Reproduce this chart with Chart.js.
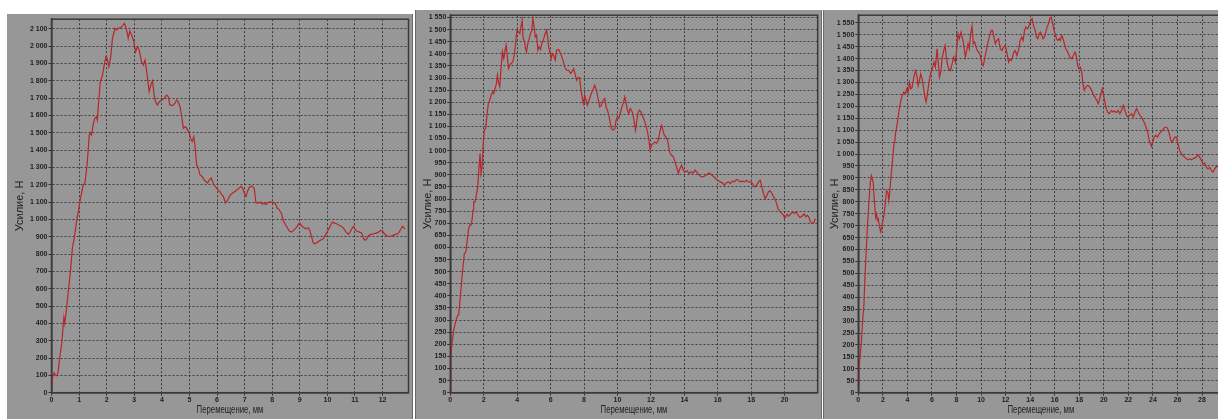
<!DOCTYPE html>
<html>
<head>
<meta charset="utf-8">
<script src="https://cdn.jsdelivr.net/npm/chart.js@4.4.1/dist/chart.umd.min.js"></script>
<style>
    html, body { margin: 0; padding: 0; background: #fff; width: 1218px; height: 419px; overflow: hidden; position: relative; }
    .panel { position: absolute; background: #979797; }
    #p1 { left: 7px; top: 14px; width: 405px; height: 405px; border-right: 1px solid #6a6a6a; }
    #p2 { left: 415px; top: 10px; width: 405px; height: 409px; border-left: 1px solid #6a6a6a; border-right: 1px solid #6a6a6a; }
    #p3 { left: 823px; top: 10px; width: 403px; height: 409px; border-left: 1px solid #6a6a6a; }
    canvas { display: block; }
</style>
</head>
<body>
<div class="panel" id="p1"><canvas id="c1" width="405" height="405"></canvas></div>
<div class="panel" id="p2"><canvas id="c2" width="405" height="409"></canvas></div>
<div class="panel" id="p3"><canvas id="c3" width="403" height="409"></canvas></div>
<script>
// Axis titles
const yTitle = 'Усилие, Н';
const xTitle = 'Перемещение, мм';

// Sample 1: displacement (mm) and force (N)
const disp1 = [0, 0.04, 0.1, 0.16, 0.2, 0.25, 0.3, 0.37, 0.45, 0.48, 0.54, 0.6, 0.69, 0.76, 0.81, 0.88, 0.93, 0.98,
    1.03, 1.09, 1.15, 1.21, 1.29, 1.37, 1.41, 1.45, 1.51, 1.57, 1.63, 1.66, 1.71, 1.77, 1.85, 1.91, 1.97,
    2.02, 2.08, 2.14, 2.21, 2.3, 2.36, 2.42, 2.5, 2.58, 2.64, 2.69, 2.75, 2.78, 2.84, 2.9, 2.97,
    3.05, 3.11, 3.18, 3.26, 3.33, 3.39, 3.45, 3.54, 3.6, 3.66, 3.72, 3.77, 3.84, 3.91,
    4.0, 4.08, 4.17, 4.23, 4.29, 4.39, 4.47, 4.53, 4.59, 4.66, 4.72, 4.78, 4.86, 4.93, 4.99,
    5.04, 5.1, 5.16, 5.21, 5.26, 5.32, 5.38, 5.46, 5.53, 5.6, 5.66, 5.72, 5.79, 5.86, 5.93, 5.99,
    6.06, 6.1, 6.17, 6.23, 6.3, 6.36, 6.42, 6.49, 6.57, 6.65, 6.73, 6.8, 6.87, 6.93, 6.99,
    7.05, 7.1, 7.17, 7.23, 7.29, 7.35, 7.41, 7.5, 7.56, 7.64, 7.71, 7.77, 7.86, 7.94,
    8.03, 8.11, 8.18, 8.25, 8.34, 8.4, 8.46, 8.55, 8.62, 8.71, 8.79, 8.89, 8.96,
    9.0, 9.06, 9.12, 9.22, 9.31, 9.37, 9.43, 9.49, 9.56, 9.63, 9.7, 9.78, 9.85, 9.92, 9.99,
    10.07, 10.13, 10.19, 10.25, 10.34, 10.43, 10.52, 10.6, 10.68, 10.75, 10.82, 10.88, 10.95,
    11.01, 11.07, 11.17, 11.25, 11.31, 11.37, 11.43, 11.49, 11.58, 11.67, 11.76, 11.85, 11.93,
    12.0, 12.05, 12.13, 12.21, 12.29, 12.38, 12.47, 12.54, 12.6, 12.67, 12.72, 12.77, 12.82];
const force1 = [0, 92, 115, 98, 98, 130, 207, 284, 434, 400, 477, 572, 706, 841, 880, 956, 1013, 1052,
    1105, 1153, 1200, 1210, 1316, 1488, 1500, 1488, 1546, 1585, 1593, 1574, 1680, 1795, 1834, 1891, 1939,
    1930, 1882, 1930, 2045, 2103, 2094, 2103, 2107, 2119, 2132, 2113, 2074, 2045, 2088, 2065, 2036,
    1969, 1997, 1978, 1911, 1891, 1920, 1853, 1738, 1776, 1800, 1718, 1680, 1661, 1680,
    1690, 1699, 1718, 1709, 1661, 1657, 1670, 1690, 1680, 1651, 1593, 1526, 1536, 1517, 1498,
    1469, 1450, 1478, 1411, 1316, 1296, 1258, 1248, 1229, 1219, 1210, 1229, 1239, 1210, 1191, 1181,
    1166, 1162, 1143, 1133, 1095, 1105, 1124, 1143, 1153, 1162, 1172, 1181, 1191, 1181, 1153,
    1133, 1162, 1185, 1191, 1191, 1178, 1095, 1095, 1101, 1089, 1095, 1085, 1099, 1101,
    1095, 1095, 1066, 1057, 1033, 994, 975, 952, 933, 927, 940, 956, 975,
    979, 965, 956, 946, 952, 933, 898, 864, 860, 869, 875, 883, 889, 908, 927,
    952, 971, 985, 979, 975, 965, 960, 946, 927, 914, 927, 946, 960,
    940, 933, 927, 921, 889, 879, 889, 908, 914, 917, 921, 927, 937,
    933, 921, 908, 902, 902, 908, 914, 917, 927, 946, 960, 952, 946];

// Sample 2
const disp2 = [0, 0.02, 0.04, 0.1, 0.2, 0.34, 0.44, 0.5, 0.6, 0.7, 0.84, 0.94, 1.0, 1.08, 1.16, 1.24, 1.3, 1.36, 1.4, 1.48,
    1.56, 1.64, 1.72, 1.78, 1.84, 1.9, 1.98, 2.04, 2.12, 2.2, 2.28, 2.36, 2.44, 2.54, 2.6, 2.68, 2.76, 2.82, 2.88, 2.96,
    3.04, 3.12, 3.2, 3.28, 3.34, 3.4, 3.48, 3.56, 3.64, 3.74, 3.84, 3.92, 4.0, 4.08, 4.16, 4.24, 4.3, 4.36, 4.44, 4.5,
    4.56, 4.64, 4.72, 4.8, 4.88, 4.94, 5.0, 5.08, 5.16, 5.24, 5.32, 5.4, 5.48, 5.56, 5.68, 5.76, 5.82, 5.88, 5.96,
    6.04, 6.1, 6.18, 6.28, 6.36, 6.48, 6.6, 6.74, 6.84, 6.96, 7.08, 7.2, 7.28, 7.38, 7.48, 7.56, 7.64, 7.72, 7.8, 7.88, 7.96,
    8.04, 8.12, 8.2, 8.3, 8.4, 8.52, 8.64, 8.74, 8.84, 8.94, 9.04, 9.14, 9.24, 9.32, 9.4, 9.48, 9.56, 9.64, 9.74, 9.84, 9.92,
    10.0, 10.08, 10.16, 10.24, 10.34, 10.44, 10.52, 10.6, 10.68, 10.76, 10.84, 10.92, 11.0, 11.08, 11.16, 11.24, 11.32,
    11.4, 11.48, 11.56, 11.64, 11.72, 11.8, 11.88, 11.96, 12.04, 12.14, 12.24, 12.34, 12.44, 12.54, 12.64, 12.72, 12.8,
    12.9, 13.0, 13.08, 13.16, 13.24, 13.34, 13.44, 13.54, 13.64, 13.74, 13.84, 13.94, 14.04, 14.16, 14.28, 14.4, 14.54,
    14.64, 14.74, 14.84, 14.96, 15.08, 15.2, 15.32, 15.44, 15.54, 15.64, 15.76, 15.88, 16.0, 16.14, 16.28, 16.4, 16.52,
    16.64, 16.74, 16.88, 17.0, 17.12, 17.24, 17.36, 17.48, 17.6, 17.72, 17.84, 17.96, 18.08, 18.2, 18.32, 18.44, 18.54,
    18.64, 18.74, 18.84, 18.94, 19.04, 19.14, 19.24, 19.34, 19.44, 19.52, 19.6, 19.74, 19.84, 19.94, 20.0, 20.08, 20.16,
    20.24, 20.36, 20.48, 20.6, 20.72, 20.8, 20.92, 21.04, 21.16, 21.28, 21.36, 21.44, 21.54, 21.64, 21.74, 21.84];
const force2 = [0, 92, 147, 203, 258, 299, 320, 320, 396, 478, 575, 582, 623, 671, 692, 692, 713, 754, 788, 788,
    816, 850, 933, 988, 906, 933, 1043, 1085, 1091, 1153, 1195, 1208, 1229, 1243, 1236, 1257, 1277, 1312, 1284, 1264,
    1346, 1408, 1381, 1415, 1436, 1394, 1339, 1353, 1360, 1367, 1401, 1456, 1498, 1491, 1484, 1518, 1539, 1463, 1449, 1422,
    1408, 1443, 1463, 1484, 1498, 1546, 1518, 1470, 1477, 1415, 1429, 1418, 1443, 1456, 1484, 1498, 1470, 1429, 1408,
    1381, 1401, 1394, 1374, 1415, 1418, 1401, 1374, 1346, 1332, 1332, 1319, 1326, 1339, 1312, 1291, 1302, 1302, 1264, 1222, 1195,
    1229, 1208, 1188, 1208, 1229, 1250, 1270, 1250, 1215, 1181, 1188, 1208, 1215, 1181, 1167, 1147, 1119, 1091, 1085, 1091, 1126,
    1140, 1133, 1153, 1174, 1195, 1222, 1195, 1167, 1153, 1174, 1167, 1153, 1119, 1085, 1126, 1160, 1167,
    1160, 1147, 1133, 1119, 1098, 1078, 1043, 1002, 1023, 1030, 1036, 1030, 1043, 1078, 1105, 1085, 1064,
    1057, 1043, 1009, 988, 981, 974, 954, 933, 906, 926, 940, 919, 912, 917, 906, 912, 908,
    919, 912, 903, 894, 892, 894, 899, 906, 906, 899, 892, 885, 878, 871, 867, 857, 867,
    871, 864, 875, 871, 881, 878, 871, 874, 871, 878, 871, 871, 864, 850, 857, 871, 878,
    850, 823, 802, 816, 830, 834, 823, 809, 798, 782, 761, 747, 740, 733, 720, 729, 738,
    729, 738, 747, 740, 747, 733, 724, 729, 738, 727, 733, 727, 706, 699, 702, 720];

// Sample 3
const disp3 = [0.03, 0.05, 0.14, 0.24, 0.35, 0.46, 0.54, 0.63, 0.76, 0.9, 0.98, 1.06, 1.14, 1.22, 1.28, 1.36, 1.41, 1.49,
    1.55, 1.63, 1.71, 1.82, 1.9, 1.95, 2.09, 2.22, 2.3, 2.41, 2.49, 2.57, 2.68, 2.82, 2.9, 2.98,
    3.03, 3.17, 3.25, 3.36, 3.47, 3.57, 3.71, 3.85, 3.95, 4.06, 4.17, 4.28, 4.39, 4.52, 4.66, 4.77, 4.87, 4.98,
    5.09, 5.2, 5.31, 5.42, 5.52, 5.63, 5.74, 5.85, 5.96, 6.07, 6.17, 6.28, 6.42, 6.5, 6.61, 6.72, 6.82, 6.96,
    7.07, 7.15, 7.26, 7.37, 7.5, 7.64, 7.77, 7.91, 8.04, 8.12, 8.23, 8.37, 8.5, 8.61, 8.72, 8.83, 8.94,
    9.04, 9.15, 9.26, 9.37, 9.48, 9.59, 9.69, 9.8, 9.94, 10.07, 10.18, 10.29, 10.4, 10.5, 10.67, 10.83, 10.94,
    11.05, 11.16, 11.29, 11.43, 11.56, 11.7, 11.83, 11.97, 12.1, 12.24, 12.35, 12.46, 12.56, 12.67, 12.78, 12.92,
    13.05, 13.19, 13.32, 13.43, 13.54, 13.65, 13.78, 13.92, 14.05, 14.16, 14.27, 14.41, 14.51, 14.62, 14.73, 14.84, 14.95,
    15.06, 15.16, 15.27, 15.38, 15.49, 15.6, 15.71, 15.81, 15.92, 16.03, 16.14, 16.25, 16.36, 16.46, 16.57, 16.68, 16.79, 16.9,
    17.0, 17.11, 17.25, 17.38, 17.52, 17.65, 17.76, 17.87, 17.98, 18.09, 18.2, 18.3, 18.41, 18.52, 18.63, 18.74, 18.85, 18.95,
    19.06, 19.17, 19.28, 19.42, 19.55, 19.66, 19.77, 19.87, 19.98, 20.09, 20.2, 20.31, 20.42, 20.53, 20.63, 20.74, 20.85, 20.96,
    21.07, 21.17, 21.31, 21.45, 21.58, 21.72, 21.85, 21.99, 22.12, 22.26, 22.4, 22.53, 22.67, 22.8, 22.94,
    23.07, 23.21, 23.34, 23.48, 23.61, 23.69, 23.8, 23.88, 23.99, 24.1, 24.23, 24.37, 24.51, 24.64, 24.78, 24.91,
    25.05, 25.18, 25.29, 25.4, 25.51, 25.64, 25.78, 25.91, 26.05, 26.18, 26.32, 26.45, 26.59, 26.73, 26.86,
    27.0, 27.13, 27.27, 27.4, 27.54, 27.67, 27.81, 27.94, 28.08, 28.21, 28.35, 28.49, 28.62, 28.76, 28.89,
    29.03, 29.16, 29.3, 29.45, 29.6];
const force3 = [30, 100, 149, 204, 301, 371, 482, 578, 715, 825, 880, 910, 896, 880, 825, 825, 736, 750,
    722, 729, 701, 674, 688, 708, 743, 805, 846, 839, 805, 846, 915, 993, 1040, 1055,
    1085, 1127, 1155, 1197, 1225, 1246, 1260, 1253, 1273, 1260, 1301, 1273, 1280, 1322, 1350, 1329, 1287, 1308,
    1336, 1315, 1280, 1239, 1218, 1253, 1294, 1329, 1350, 1364, 1385, 1364, 1441, 1392, 1322, 1343, 1399, 1434,
    1455, 1413, 1378, 1357, 1350, 1378, 1406, 1385, 1455, 1504, 1483, 1511, 1483, 1448, 1406, 1434, 1462,
    1441, 1504, 1535, 1462, 1469, 1448, 1434, 1427, 1413, 1378, 1371, 1399, 1427, 1455, 1490, 1518, 1518,
    1490, 1462, 1476, 1483, 1441, 1434, 1448, 1455, 1427, 1385, 1399, 1392, 1406, 1427, 1434, 1413,
    1434, 1476, 1490, 1476, 1518, 1532, 1525, 1539, 1560, 1567, 1539, 1518, 1490, 1483, 1504, 1511, 1497,
    1483, 1490, 1511, 1532, 1546, 1567, 1574, 1553, 1525, 1504, 1483, 1476, 1483, 1476, 1497, 1483, 1462, 1441,
    1434, 1420, 1406, 1399, 1413, 1427, 1413, 1371, 1357, 1364, 1343, 1294, 1267, 1280, 1287, 1287, 1280, 1273,
    1260, 1246, 1239, 1225, 1211, 1232, 1253, 1273, 1246, 1218, 1190, 1176, 1169, 1176, 1183, 1176, 1180, 1176,
    1176, 1183, 1169, 1183, 1204, 1183, 1162, 1155, 1162, 1169, 1155, 1176, 1190, 1176, 1162,
    1155, 1141, 1127, 1106, 1085, 1057, 1043, 1032, 1050, 1071, 1078, 1071, 1085, 1092, 1099, 1109,
    1113, 1109, 1092, 1071, 1050, 1057, 1071, 1071, 1043, 1015, 1001, 994, 987, 980, 976,
    980, 976, 980, 984, 987, 998, 987, 973, 959, 962, 945, 938, 945, 931, 924,
    938, 948, 945, 952, 948];

const fontFamily = "'Liberation Sans', Arial, sans-serif";
const tickFont = { family: fontFamily, size: 7, weight: 'bold' };
const yTitleFont = { family: fontFamily, size: 11 };
const gridColor = 'rgba(45, 45, 45, 0.85)';

// Frame around the plot area, plus a narrow x axis title under it
const frame = {
    id: 'frame',
    afterDraw(chart) {
        const a = chart.chartArea;
        const ctx = chart.ctx;
        ctx.save();
        ctx.strokeStyle = '#3a3a3a';
        ctx.lineWidth = 1.5;
        ctx.strokeRect(a.left, a.top, a.right - a.left, a.bottom - a.top);
        // condensed title, like the narrow font of the original
        ctx.font = '10.5px ' + fontFamily;
        ctx.fillStyle = '#222';
        ctx.textAlign = 'center';
        ctx.textBaseline = 'middle';
        ctx.translate((a.left + a.right) / 2, chart.height - 9);
        ctx.scale(0.74, 1);
        ctx.fillText(xTitle, 0, 0);
        ctx.restore();
    }
};

function spaced(v) {
    return String(v).replace(/\B(?=(\d{3})+(?!\d))/g, ' ');
}

function makeChart(id, xs, ys, cfg) {
    const points = xs.map((x, i) => ({ x: x, y: ys[i] }));
    return new Chart(document.getElementById(id), {
        type: 'line',
        data: {
            datasets: [{
                data: points,
                borderColor: '#b8262a',
                borderWidth: 1.2,
                pointRadius: 0,
                tension: 0,
                fill: false
            }]
        },
        options: {
            responsive: false,
            animation: false,
            events: [],
            layout: { padding: { top: cfg.top, right: cfg.right, bottom: 0, left: 0 } },
            plugins: { legend: { display: false }, tooltip: { enabled: false } },
            scales: {
                x: {
                    type: 'linear',
                    min: 0,
                    max: cfg.xMax,
                    afterFit: s => { s.height = 26.3; },
                    ticks: { stepSize: cfg.xStep, includeBounds: false, autoSkip: false, maxRotation: 0,
                        padding: 0, color: '#222', font: tickFont },
                    grid: { color: gridColor, tickLength: 3, tickColor: '#333' },
                    border: { color: '#333', width: 1.5, dash: [2, 2] }
                },
                y: {
                    min: 0,
                    max: cfg.yMax,
                    afterFit: s => { s.width = cfg.yWidth; },
                    ticks: { stepSize: cfg.yStep, includeBounds: false, autoSkip: false, padding: 1,
                        color: '#222', font: tickFont, callback: v => spaced(v) },
                    grid: { color: gridColor, tickLength: 3, tickColor: '#333' },
                    border: { color: '#333', width: 1.5, dash: [2, 2] },
                    title: { display: true, text: yTitle, color: '#222', font: yTitleFont, padding: { top: cfg.titlePad, bottom: 0 } }
                }
            }
        },
        plugins: [frame]
    });
}

makeChart('c1', disp1, force1, { top: 4, right: 3.5, yWidth: 44.5, xMax: 12.94, xStep: 1, yMax: 2156, yStep: 100, titlePad: 6.5 });
makeChart('c2', disp2, force2, { top: 5, right: 3.3, yWidth: 34.3, xMax: 21.98, xStep: 2, yMax: 1559.5, yStep: 50, titlePad: 5.2 });
makeChart('c3', disp3, force3, { top: 4.7, right: 3.5, yWidth: 34.3, xMax: 29.75, xStep: 2, yMax: 1581.8, yStep: 50, titlePad: 4.2 });
</script>
</body>
</html>
